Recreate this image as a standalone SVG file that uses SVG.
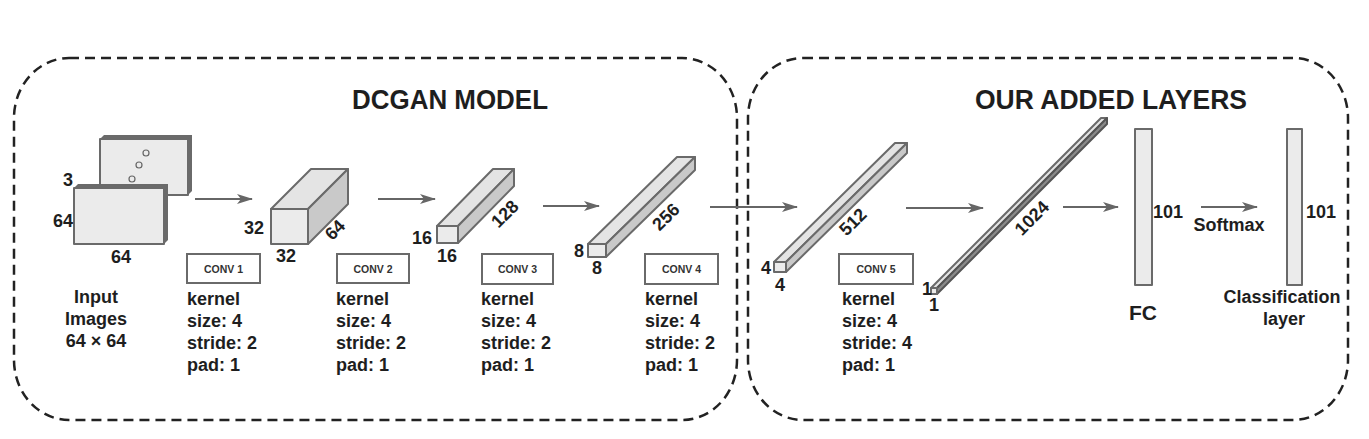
<svg xmlns="http://www.w3.org/2000/svg" width="1369" height="439" viewBox="0 0 1369 439">
<style>
text{font-family:"Liberation Sans",Arial,sans-serif;font-weight:bold;fill:#1e1e1e}
.t{font-size:18px}
.m{text-anchor:middle}
.title{font-size:27px;text-anchor:middle}
.conv{font-size:10.5px;text-anchor:middle;fill:#333}
.frame{fill:none;stroke:#222;stroke-width:2.5;stroke-dasharray:10 6}
.face{fill:#ebebeb;stroke:#6a6a6a;stroke-width:2;stroke-linejoin:round}
.top{fill:#e4e4e4;stroke:#6a6a6a;stroke-width:2;stroke-linejoin:round}
.side{fill:#c9c9c9;stroke:#6a6a6a;stroke-width:2;stroke-linejoin:round}
.dark{fill:#8a8a8a;stroke:#555;stroke-width:2;stroke-linejoin:round}
.slab{fill:#6a6a6a}
.cbox{fill:#fff;stroke:#6a6a6a;stroke-width:2}
.arrow{fill:none;stroke:#666;stroke-width:2;marker-end:url(#ah)}
</style>
<defs>
<marker id="ah" viewBox="0 0 16 10" refX="15" refY="5" markerWidth="16" markerHeight="10" markerUnits="userSpaceOnUse" orient="auto">
<path d="M0,0 L16,5 L0,10 L4,5 z" fill="#666"/>
</marker>
</defs>
<rect width="1369" height="439" fill="#fff"/>

<g id="frame-dcgan">
<rect class="frame" x="14" y="58" width="723" height="362" rx="55" ry="60"/>
<text class="title" x="450" y="109" textLength="196" lengthAdjust="spacingAndGlyphs">DCGAN MODEL</text>
</g>
<g id="frame-added">
<rect class="frame" x="748" y="58" width="600" height="362" rx="55" ry="60"/>
<text class="title" x="1111" y="109" textLength="272" lengthAdjust="spacingAndGlyphs">OUR ADDED LAYERS</text>
</g>

<g id="input">
<polygon class="slab" points="100,139 104,135 192,135 192,191 188,195 188,139"/>
<rect class="face" x="100" y="139" width="88" height="56"/>
<circle cx="146" cy="153" r="3" fill="none" stroke="#666" stroke-width="1.2"/>
<circle cx="139" cy="165" r="3" fill="none" stroke="#666" stroke-width="1.2"/>
<circle cx="132" cy="179" r="3" fill="none" stroke="#666" stroke-width="1.2"/>
<polygon class="slab" points="74,188 78,184 168,184 168,240 164,244 164,188"/>
<rect class="face" x="74" y="188" width="90" height="56"/>
<text class="t m" x="68" y="186">3</text>
<text class="t m" x="63" y="227">64</text>
<text class="t m" x="121" y="263">64</text>
<text class="t m" x="96" y="303">Input</text>
<text class="t m" x="96" y="325">Images</text>
<text class="t m" x="96" y="347">64 × 64</text>
</g>

<g id="conv1">
<polygon class="top" points="271,209 311,169 348,169 308,209"/>
<polygon class="side" points="308,209 348,169 348,204 308,244"/>
<rect class="face" x="271" y="209" width="37" height="35"/>
<text class="t m" x="254" y="234">32</text>
<text class="t m" x="286" y="262">32</text>
<text class="t m" transform="rotate(-45 335 230)" x="335" y="236">64</text>
<rect class="cbox" x="187" y="254" width="73" height="29"/>
<text class="conv" x="223.5" y="272.5">CONV 1</text>
<text class="t" x="187" y="305">kernel</text>
<text class="t" x="187" y="327">size: 4</text>
<text class="t" x="187" y="349">stride: 2</text>
<text class="t" x="187" y="371">pad: 1</text>
</g>

<g id="conv2">
<polygon class="top" points="437,226 493,169 514,169 458,226"/>
<polygon class="side" points="458,226 514,169 514,186 458,243"/>
<rect class="face" x="437" y="226" width="21" height="17"/>
<text class="t m" x="422" y="244">16</text>
<text class="t m" x="447" y="262">16</text>
<text class="t m" transform="rotate(-45 505 214)" x="505" y="220">128</text>
<rect class="cbox" x="337" y="254" width="72" height="29"/>
<text class="conv" x="373" y="272.5">CONV 2</text>
<text class="t" x="336" y="305">kernel</text>
<text class="t" x="336" y="327">size: 4</text>
<text class="t" x="336" y="349">stride: 2</text>
<text class="t" x="336" y="371">pad: 1</text>
</g>

<g id="conv3">
<polygon class="top" points="588,244 677,157 695,157 606,244"/>
<polygon class="side" points="606,244 695,157 695,170 606,257"/>
<rect class="face" x="588" y="244" width="18" height="13"/>
<text class="t m" x="579" y="257">8</text>
<text class="t m" x="597" y="274">8</text>
<text class="t m" transform="rotate(-45 666 217)" x="666" y="223">256</text>
<rect class="cbox" x="482" y="254" width="71" height="30"/>
<text class="conv" x="517.5" y="273">CONV 3</text>
<text class="t" x="481" y="305">kernel</text>
<text class="t" x="481" y="327">size: 4</text>
<text class="t" x="481" y="349">stride: 2</text>
<text class="t" x="481" y="371">pad: 1</text>
</g>

<g id="conv4">
<polygon class="top" points="774,262 895,143 907,143 786,262"/>
<polygon class="side" points="786,262 907,143 907,153 786,272"/>
<rect class="face" x="774" y="262" width="12" height="10"/>
<text class="t m" x="766" y="274">4</text>
<text class="t m" x="780" y="291">4</text>
<text class="t m" transform="rotate(-45 853 222)" x="853" y="228">512</text>
<rect class="cbox" x="645" y="254" width="73" height="30"/>
<text class="conv" x="681.5" y="273">CONV 4</text>
<text class="t" x="645" y="305">kernel</text>
<text class="t" x="645" y="327">size: 4</text>
<text class="t" x="645" y="349">stride: 2</text>
<text class="t" x="645" y="371">pad: 1</text>
</g>

<g id="conv5">
<polygon class="top" points="931,288 1101,118 1107,118 937,288"/>
<polygon class="dark" points="937,288 1107,118 1107,124 937,294"/>
<rect class="face" x="931" y="288" width="6" height="6"/>
<text class="t m" x="927" y="295">1</text>
<text class="t m" x="934" y="311">1</text>
<text class="t m" transform="rotate(-45 1032 218)" x="1032" y="224">1024</text>
<rect class="cbox" x="839" y="254" width="74" height="30"/>
<text class="conv" x="876" y="273">CONV 5</text>
<text class="t" x="842" y="305">kernel</text>
<text class="t" x="842" y="327">size: 4</text>
<text class="t" x="842" y="349">stride: 4</text>
<text class="t" x="842" y="371">pad: 1</text>
</g>

<g id="fc">
<rect class="face" x="1135" y="129" width="17" height="156"/>
<text class="t m" x="1168" y="218">101</text>
<text class="m" style="font-size:21px" x="1143" y="320">FC</text>
</g>

<g id="classification">
<rect class="face" x="1287" y="129" width="15" height="156"/>
<text class="t m" x="1321" y="218">101</text>
<text class="t m" x="1282" y="303">Classification</text>
<text class="t m" x="1284" y="325">layer</text>
</g>

<g id="connectors">
<line class="arrow" x1="195" y1="199" x2="252" y2="199"/>
<line class="arrow" x1="378" y1="199" x2="435" y2="199"/>
<line class="arrow" x1="543" y1="206" x2="599" y2="206"/>
<line class="arrow" x1="710" y1="207" x2="797" y2="207"/>
<line class="arrow" x1="906" y1="208" x2="983" y2="208"/>
<line class="arrow" x1="1063" y1="207" x2="1118" y2="207"/>
<line class="arrow" x1="1201" y1="207" x2="1257" y2="207"/>
<text class="t m" x="1229" y="231">Softmax</text>
</g>
</svg>
